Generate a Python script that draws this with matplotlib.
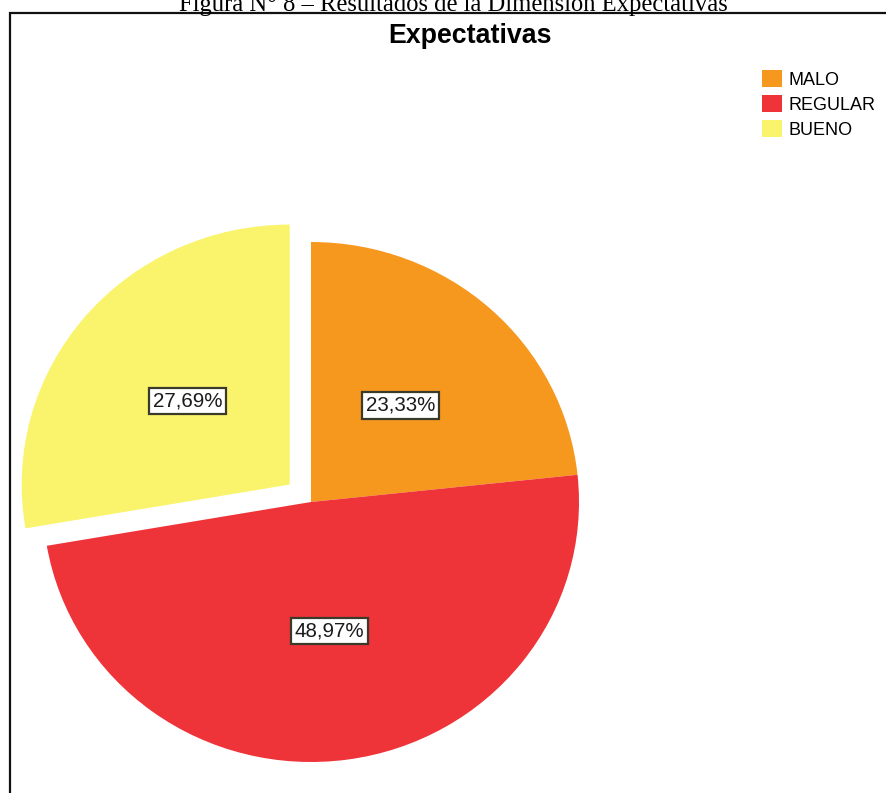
import matplotlib.pyplot as plt
from matplotlib.patches import Rectangle

# Dimension "Expectativas" results
categorias = ['MALO', 'REGULAR', 'BUENO']
porcentajes = [23.33, 48.97, 27.69]
colores = ['#F7981E', '#EE3339', '#F9F46B']
separacion = [0, 0, 0.104]

W, H = 886, 793
fig = plt.figure(figsize=(W / 100, H / 100), dpi=100)
ax = fig.add_axes([0, 0, 1, 1])

def fmt(p):
    return f'{p:.2f}%'.replace('.', ',')

wedges, textos, autotextos = ax.pie(
    porcentajes, colors=colores, explode=separacion, startangle=90,
    counterclock=False, autopct=fmt, pctdistance=0.5,
    wedgeprops=dict(linewidth=0),
    textprops=dict(family='Liberation Sans', fontsize=14.8, color='#1a1a1a'))

for t in autotextos:
    t.set_bbox(dict(boxstyle='square,pad=0.18', facecolor='white',
                    edgecolor='#3a3a2a', linewidth=1.6))

# pie centre at (311, 502) px, radii 268 x 260 px
cx, cy, rx, ry = 311, H - 502, 268, 260
ax.set_aspect('auto')
ax.set_xlim(-cx / rx, (W - cx) / rx)
ax.set_ylim(-cy / ry, (H - cy) / ry)
ax.axis('off')

fig.text(470 / W, 1 - 36 / H, 'Expectativas', ha='center', va='center',
         family='Liberation Sans', fontweight='bold', fontsize=19.3)

fig.text(453 / W, 1 - 11 / H,
         'Figura N° 8 – Resultados de la Dimensión Expectativas',
         ha='center', va='baseline', family='Liberation Serif', fontsize=17.7)

fig.add_artist(Rectangle((9.5 / W, -0.1), 1.2, 1.1 - 13 / H,
                         transform=fig.transFigure, fill=False,
                         edgecolor='#111111', linewidth=1.6))

fig.legend(wedges, categorias, loc='upper left',
           bbox_to_anchor=(762 / W, 1 - 70 / H), frameon=False,
           prop=dict(family='Liberation Sans', size=13),
           handlelength=1.1, handleheight=1.1, handletextpad=0.35,
           labelspacing=0.34, borderpad=0, borderaxespad=0)

fig.savefig('out.png', dpi=100)
